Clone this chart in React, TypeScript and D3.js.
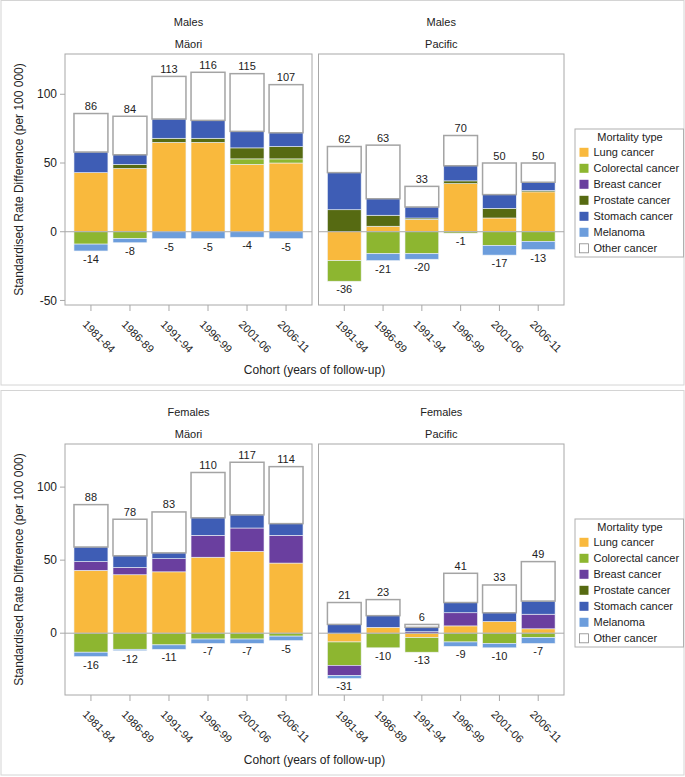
import React from 'react';
import * as d3 from 'd3';

const cohorts = ['1981-84', '1986-89', '1991-94', '1996-99', '2001-06', '2006-11'];
const causes = ['Lung cancer', 'Colorectal cancer', 'Breast cancer', 'Prostate cancer', 'Stomach cancer', 'Melanoma', 'Other cancer'];

// rows follow `causes`, columns follow `cohorts`
const maleMaori = [
  [43, 46, 65, 65, 49, 50],
  [-9, -5, 0, 0, 4, 3],
  [0, 0, 0, 0, 0, 0],
  [0, 3, 3, 3, 8, 9],
  [15, 7, 14, 13, 12, 10],
  [-5, -3, -5, -5, -4, -5],
  [28, 28, 31, 35, 42, 35],
];
const malePacific = [
  [-21, 4, 9, 35, 10, 29],
  [-15, -16, -16, -1, -10, -7],
  [0, 0, 0, 0, 0, 0],
  [16, 8, 1, 2, 7, 1],
  [27, 12, 8, 11, 10, 6],
  [0, -5, -4, 0, -7, -6],
  [19, 39, 15, 22, 23, 14],
];
const femaleMaori = [
  [43, 40, 42, 52, 56, 48],
  [-13, -11, -8, -4, -4, -2],
  [6, 5, 9, 15, 16, 19],
  [0, 0, 0, 0, 0, 0],
  [10, 8, 4, 12, 9, 8],
  [-3, -1, -3, -3, -3, -3],
  [29, 25, 28, 31, 36, 39],
];
const femalePacific = [
  [-6, 4, -3, 5, 8, 3],
  [-16, -10, -10, -6, -7, -3],
  [-7, 0, 1, 9, 0, 10],
  [0, 0, 0, 0, 0, 0],
  [6, 8, 3, 7, 6, 9],
  [-2, 0, 0, -3, -3, -4],
  [15, 11, 2, 20, 19, 27],
];

const maleTicks = [-50, 0, 50, 100];
const femaleTicks = [0, 50, 100];

const sexTitles = ['Males', 'Females'];
const groupTitles = ['Mäori', 'Pacific'];

const yLabel = 'Standardised Rate Difference (per 100 000)';
const xLabel = 'Cohort (years of follow-up)';
const legendTitle = 'Mortality type';

const colors = ['#F9B93D', '#8DB630', '#6A3F9F', '#566A12', '#3E5DB5', '#6C9DDC', '#FFFFFF'];

const FONT = '"Liberation Sans", Arial, Helvetica, sans-serif';
const TXT = '#222';

type PanelProps = {
  data: number[][];
  x0: number;
  x1: number;
  yScale: d3.ScaleLinear<number, number>;
  top: number;
  bottom: number;
  showY: boolean;
  ticks: number[];
  sex: string;
  group: string;
};

function Panel({ data, x0, x1, yScale, top, bottom, showY, ticks, sex, group }: PanelProps) {
  const x = d3.scaleBand<string>().domain(cohorts).range([x0, x1]).paddingInner(0.13).paddingOuter(0.23);
  const rows = cohorts.map((c, i) => {
    const r: Record<string, any> = { cohort: c };
    causes.forEach((k, j) => (r[k] = data[j][i]));
    return r;
  });
  const series = d3.stack<any>().keys(causes).offset(d3.stackOffsetDiverging)(rows);
  const pos = cohorts.map((_, i) => d3.sum(causes.map((_, j) => Math.max(0, data[j][i]))));
  const neg = cohorts.map((_, i) => d3.sum(causes.map((_, j) => Math.min(0, data[j][i]))));
  const cx = (x0 + x1) / 2;
  return (
    <g>
      <text x={cx} y={top - 28} textAnchor="middle" fontSize={11} fill={TXT}>{sex}</text>
      <text x={cx} y={top - 6} textAnchor="middle" fontSize={11} fill={TXT}>{group}</text>
      {series.map((s, j) =>
        s.map((d, i) => {
          const v = data[j][i];
          if (v === 0) return null;
          const y0 = yScale(d[1]);
          const y1 = yScale(d[0]);
          const isOther = j === causes.length - 1;
          return (
            <rect
              key={`${j}-${i}`}
              x={x(cohorts[i])!}
              y={Math.min(y0, y1)}
              width={x.bandwidth()}
              height={Math.abs(y1 - y0)}
              fill={colors[j]}
              stroke={isOther ? '#a4a4a4' : '#eef2f7'}
              strokeWidth={isOther ? 1.5 : 0.6}
            />
          );
        })
      )}
      <line x1={x0} x2={x1} y1={yScale(0)} y2={yScale(0)} stroke="#a8a8a8" strokeWidth={1} />
      {cohorts.map((c, i) => (
        <text key={'p' + c} x={x(c)! + x.bandwidth() / 2} y={yScale(pos[i]) - 3.5} textAnchor="middle" fontSize={11} fill={TXT}>
          {pos[i]}
        </text>
      ))}
      {cohorts.map((c, i) => (
        <text key={'n' + c} x={x(c)! + x.bandwidth() / 2} y={yScale(neg[i]) + 12} textAnchor="middle" fontSize={11} fill={TXT}>
          {neg[i]}
        </text>
      ))}
      <rect x={x0} y={top} width={x1 - x0} height={bottom - top} fill="none" stroke="#a8a8a8" strokeWidth={1} />
      {cohorts.map((c) => {
        const tx = x(c)! + x.bandwidth() / 2;
        return (
          <g key={'t' + c}>
            <line x1={tx} x2={tx} y1={bottom} y2={bottom + 6} stroke="#a8a8a8" />
            <text transform={`translate(${tx - 9},${bottom + 20}) rotate(45)`} fontSize={11} fill={TXT}>{c}</text>
          </g>
        );
      })}
      {showY &&
        ticks.map((t) => (
          <g key={'y' + t}>
            <line x1={x0 - 5} x2={x0} y1={yScale(t)} y2={yScale(t)} stroke="#a8a8a8" />
            <text x={x0 - 8} y={yScale(t)} dy="0.35em" textAnchor="end" fontSize={12} fill={TXT}>{t}</text>
          </g>
        ))}
    </g>
  );
}

function Legend({ top }: { top: number }) {
  return (
    <g>
      <rect x={575} y={top} width={108.5} height={128} fill="#fff" stroke="#b0b0b0" strokeWidth={1} />
      <text x={630} y={top + 11.5} textAnchor="middle" fontSize={11} fill={TXT}>{legendTitle}</text>
      {causes.map((c, i) => {
        const cy = top + 23.3 + i * 16;
        return (
          <g key={c}>
            <rect x={579.5} y={cy - 4.5} width={9} height={9} fill={colors[i]} stroke={i === causes.length - 1 ? '#888' : 'none'} strokeWidth={0.8} />
            <text x={593.5} y={cy + 4} fontSize={11} fill={TXT}>{c}</text>
          </g>
        );
      })}
    </g>
  );
}

function Figure({ offset, sexIdx, left, right, domain, ticks }: any) {
  const top = offset + 54;
  const bottom = offset + 305;
  const y = d3.scaleLinear().domain(domain).range([bottom, top]);
  return (
    <g>
      <rect x={1} y={offset + 0.5} width={683} height={384.5} fill="none" stroke="#d4d4d4" strokeWidth={1} />
      <Panel data={left} x0={65} x1={312} yScale={y} top={top} bottom={bottom} showY ticks={ticks} sex={sexTitles[sexIdx]} group={groupTitles[0]} />
      <Panel data={right} x0={318.5} x1={564} yScale={y} top={top} bottom={bottom} showY={false} ticks={ticks} sex={sexTitles[sexIdx]} group={groupTitles[1]} />
      <text transform={`translate(23,${(top + bottom) / 2}) rotate(-90)`} textAnchor="middle" fontSize={12} fill={TXT}>{yLabel}</text>
      <text x={314.5} y={offset + 374} textAnchor="middle" fontSize={12} fill={TXT}>{xLabel}</text>
      <Legend top={offset + 129} />
    </g>
  );
}

export default function App() {
  return (
    <svg width={685} height={777} style={{ position: 'absolute', left: 0, top: 0, fontFamily: FONT, background: '#fff' }}>
      <Figure offset={0} sexIdx={0} left={maleMaori} right={malePacific} domain={[-53.3, 129.3]} ticks={maleTicks} />
      <Figure offset={390} sexIdx={1} left={femaleMaori} right={femalePacific} domain={[-42.3, 129.5]} ticks={femaleTicks} />
    </svg>
  );
}
